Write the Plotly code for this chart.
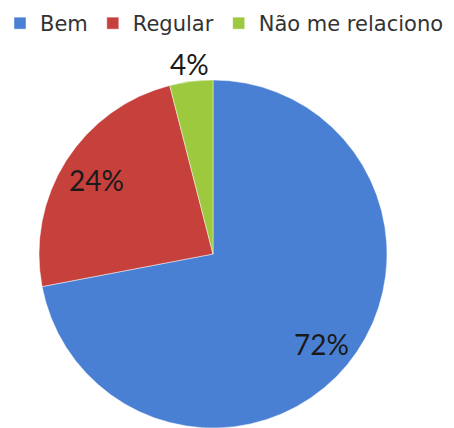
import math
import plotly.graph_objects as go

# Survey answers and their shares (%)
categories = ["Bem", "Regular", "Não me relaciono"]
shares = [72, 24, 4]
slice_colors = ["#4a80d3", "#c6403c", "#9cc93e"]

# Distance of each percentage label from the centre, as a fraction of the radius
label_radius = [0.81, 0.79, 1.10]

W, H = 454, 428
PIE_X = (38, 388)      # horizontal extent of the pie domain, px
PIE_H = 348            # pie domain height, px (from the bottom edge)

fig = go.Figure(
    go.Pie(
        labels=categories,
        values=shares,
        sort=False,
        direction="clockwise",
        rotation=0,
        marker=dict(colors=slice_colors, line=dict(color="rgba(255,255,255,0.45)", width=1)),
        textinfo="none",
        hoverinfo="label+percent",
        domain=dict(x=[PIE_X[0] / W, PIE_X[1] / W], y=[0, PIE_H / H]),
    )
)

# Percentage labels placed along each slice's middle angle
cx = (PIE_X[0] + PIE_X[1]) / 2
cy = H - PIE_H / 2
r = PIE_H / 2
total = sum(shares)
start = 0.0
for value, frac in zip(shares, label_radius):
    mid = math.radians((start + value / 2) / total * 360)
    start += value
    px = cx + frac * r * math.sin(mid)
    py = cy - frac * r * math.cos(mid)
    fig.add_annotation(
        x=px / W,
        y=1 - py / H,
        xref="paper",
        yref="paper",
        text=f"{value}%",
        showarrow=False,
        xanchor="center",
        yanchor="middle",
        font=dict(family="Lato", size=28, color="#1a1a1a"),
    )

fig.update_layout(
    width=W,
    height=H,
    margin=dict(l=0, r=0, t=0, b=0),
    paper_bgcolor="white",
    showlegend=True,
    legend=dict(
        orientation="h",
        x=0,
        y=1 - 3 / H,
        xanchor="left",
        yanchor="top",
        font=dict(family="DejaVu Sans", size=21, color="#333333"),
        itemwidth=30,
        tracegroupgap=0,
    ),
)

fig.write_html("out.html")
